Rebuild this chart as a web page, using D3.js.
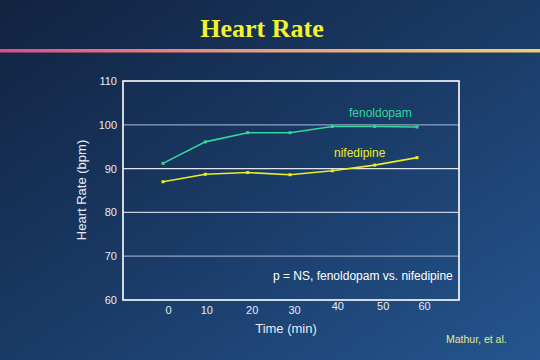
<!DOCTYPE html>
<html><head><meta charset="utf-8">
<script src="https://cdn.jsdelivr.net/npm/d3@7"></script>
<style>html,body{margin:0;padding:0;background:#183560;}svg{display:block;}</style>
</head><body>
<svg id="c" width="540" height="360"></svg>
<script>
const times = [0, 10, 20, 30, 40, 50, 60];
const fenoldopam = [91.2, 96.1, 98.2, 98.2, 99.6, 99.6, 99.5];
const nifedipine = [87.0, 88.7, 89.1, 88.6, 89.5, 90.8, 92.5];
const yTicks = [60, 70, 80, 90, 100, 110];
const xTickLabels = ["0", "10", "20", "30", "40", "50", "60"];

const svg = d3.select("#c");
const defs = svg.append("defs");
const bg = defs.append("linearGradient").attr("id","bg").attr("x1","0").attr("y1","0").attr("x2","1").attr("y2","1");
bg.append("stop").attr("offset","0").attr("stop-color","#11233f");
bg.append("stop").attr("offset","0.5").attr("stop-color","#1a3a66");
bg.append("stop").attr("offset","1").attr("stop-color","#24558e");
svg.append("rect").attr("width",540).attr("height",360).attr("fill","url(#bg)");

const rule = defs.append("linearGradient").attr("id","rule").attr("x1","0").attr("x2","1");
rule.append("stop").attr("offset","0").attr("stop-color","#e04a88");
rule.append("stop").attr("offset","0.45").attr("stop-color","#e99a80");
rule.append("stop").attr("offset","1").attr("stop-color","#f0d070");
svg.append("rect").attr("x",0).attr("y",49).attr("width",540).attr("height",3.5).attr("fill","url(#rule)");

svg.append("text").attr("x",262).attr("y",37).attr("text-anchor","middle")
  .attr("font-family","Liberation Serif").attr("font-weight","bold").attr("font-size",26)
  .attr("fill","#f4f42c").text("Heart Rate");

const L = 123, R = 459, T = 81, B = 300;
const x = d3.scaleLinear().domain([0, 60]).range([163, 417]);
const y = d3.scaleLinear().domain([60, 110]).range([B, T]);

// gridlines
const gridColor = {100:"#8fa3c4", 90:"#dfe6f2", 80:"#c3cee0", 70:"#8fa3c4"};
svg.append("g").selectAll("line").data(yTicks.filter(v => v>60 && v<110)).join("line")
  .attr("x1",L).attr("x2",R).attr("y1",d=>y(d)).attr("y2",d=>y(d))
  .attr("stroke",d=>gridColor[d]).attr("stroke-width",1.2);

// frame
svg.append("rect").attr("x",L).attr("y",y(110)).attr("width",R-L).attr("height",y(60)-y(110))
  .attr("fill","none").attr("stroke","#ffffff").attr("stroke-width",1.6);

// y axis
const yAxis = d3.axisLeft(y).tickValues(yTicks).tickSize(0).tickPadding(6);
const gy = svg.append("g").attr("transform",`translate(${L},0)`).call(yAxis);
gy.select(".domain").remove();
gy.selectAll("text").attr("font-family","Liberation Sans").attr("font-size",11).attr("fill","#e6ebf5");

// x axis labels
const xAxis = d3.axisBottom(x).tickValues(times).tickFormat((d,i)=>xTickLabels[i]).tickSize(0).tickPadding(0);
const gx = svg.append("g").attr("transform",`translate(0,${B})`).call(xAxis);
gx.select(".domain").remove();
const xOff = [5, 1, 4, 4, 5, 8, 7];
const yOff = [14, 14, 14, 14, 10, 10, 10];
gx.selectAll("text").attr("font-family","Liberation Sans").attr("font-size",11).attr("fill","#e6ebf5")
  .attr("dy",null).attr("y",(d,i)=>yOff[i]).attr("x",(d,i)=>xOff[i]);

// axis titles
svg.append("text").attr("transform","translate(86,190) rotate(-90)").attr("text-anchor","middle")
  .attr("font-family","Liberation Sans").attr("font-size",13).attr("fill","#e6ebf5").text("Heart Rate (bpm)");
svg.append("text").attr("x",286).attr("y",333).attr("text-anchor","middle")
  .attr("font-family","Liberation Sans").attr("font-size",13).attr("fill","#e6ebf5").text("Time (min)");

// lines
const series = [
  {name:"fenoldopam", values:fenoldopam, color:"#34d69c"},
  {name:"nifedipine", values:nifedipine, color:"#ecec1e"}
];
const line = d3.line().x((d,i)=>x(times[i])).y(d=>y(d));
series.forEach(s => {
  svg.append("path").datum(s.values).attr("d",line).attr("fill","none")
    .attr("stroke",s.color).attr("stroke-width",1.6);
  svg.append("g").selectAll("rect").data(s.values).join("rect")
    .attr("x",(d,i)=>x(times[i])-1.5).attr("y",d=>y(d)-1.5).attr("width",3).attr("height",3)
    .attr("fill",s.color);
});

svg.append("text").attr("x",349).attr("y",117).attr("font-family","Liberation Sans").attr("font-size",12)
  .attr("fill","#34d69c").text("fenoldopam");
svg.append("text").attr("x",334).attr("y",157).attr("font-family","Liberation Sans").attr("font-size",12)
  .attr("fill","#ecec1e").text("nifedipine");

svg.append("text").attr("x",273).attr("y",280).attr("font-family","Liberation Sans").attr("font-size",12)
  .attr("fill","#ffffff").text("p = NS, fenoldopam vs. nifedipine");

svg.append("text").attr("x",446).attr("y",343).attr("font-family","Liberation Sans").attr("font-size",10.5)
  .attr("fill","#e2ea8e").text("Mathur, et al.");
</script>
</body></html>
